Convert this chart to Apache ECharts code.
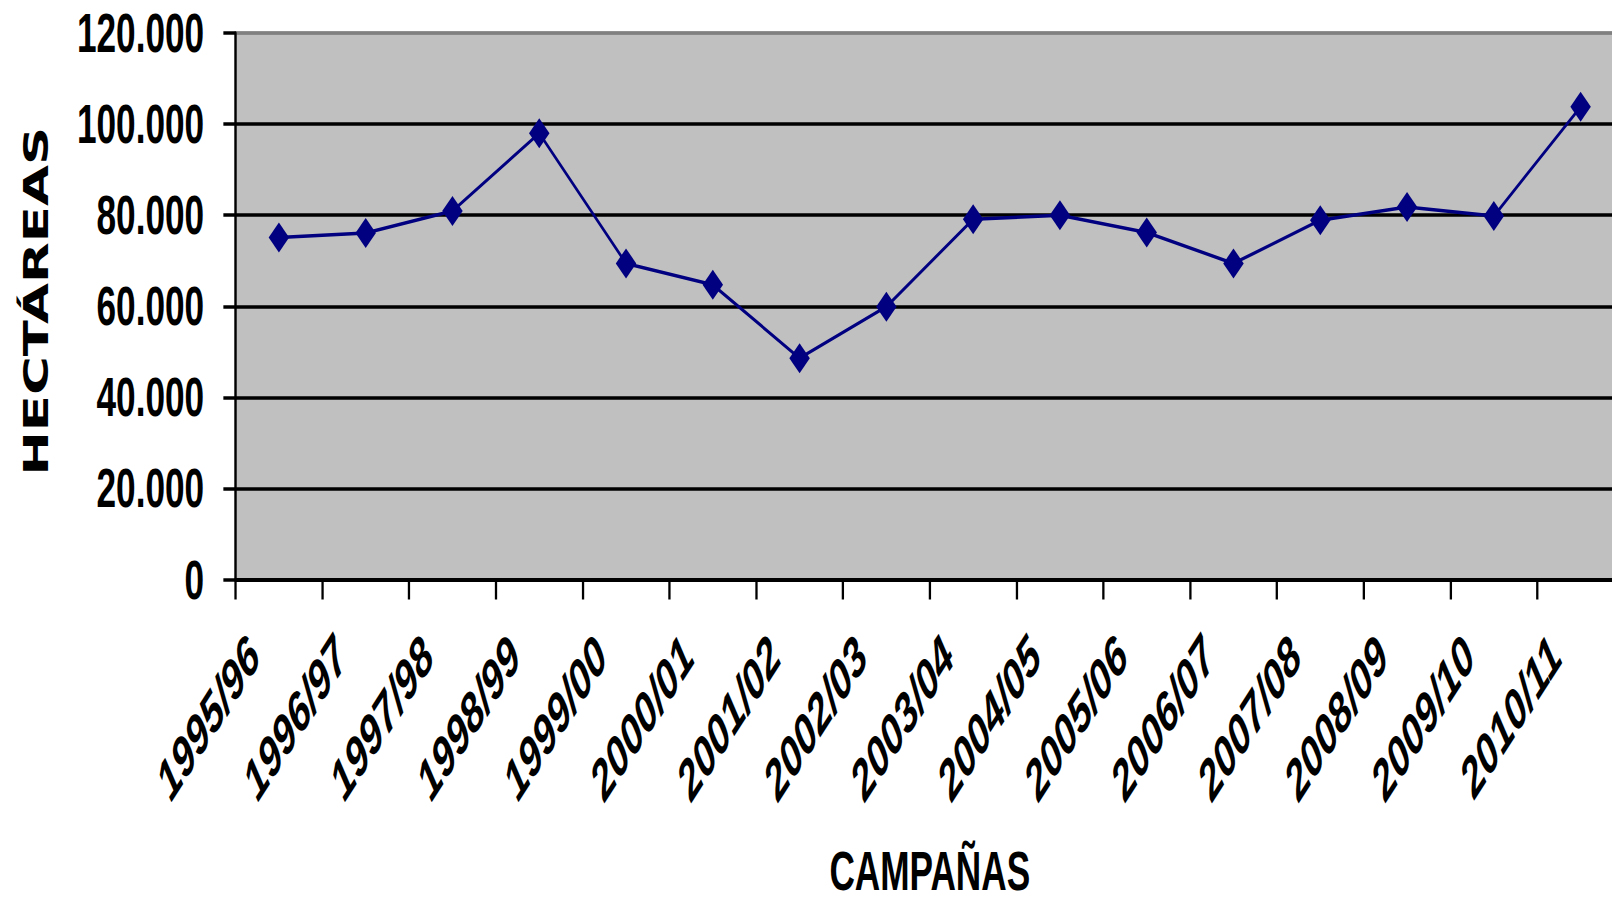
<!DOCTYPE html>
<html>
<head>
<meta charset="utf-8">
<script src="https://cdn.jsdelivr.net/npm/echarts@6/dist/echarts.min.js"></script>
<style>
  html, body { margin: 0; padding: 0; background: #fff; overflow: hidden; width: 1612px; height: 902px; }
  #chart { width: 2519px; height: 902px; transform: scaleX(0.64); transform-origin: 0 0; }
</style>
</head>
<body>
<div id="chart"></div>
<script>
// Data
const categories = ['1995/96','1996/97','1997/98','1998/99','1999/00','2000/01','2001/02','2002/03',
                    '2003/04','2004/05','2005/06','2006/07','2007/08','2008/09','2009/10','2010/11'];
const hectareas = [75100, 76100, 80900, 98000, 69400, 64700, 48600, 59900,
                   79100, 80000, 76200, 69400, 78900, 81800, 79800, 103800];
const yMin = 0;
const yMax = 120000;
const yStep = 20000;
const xTitle = 'CAMPAÑAS';
const yTitle = 'HECTÁREAS';

function fmt(v) {
  return String(v).replace(/\B(?=(\d{3})+(?!\d))/g, '.');
}

const chart = echarts.init(document.getElementById('chart'), null, { renderer: 'svg' });
chart.setOption({
  animation: false,
  backgroundColor: '#ffffff',
  grid: {
    left: 368, top: 33, width: 2169.5, height: 546.5,
    show: true, backgroundColor: '#C0C0C0', borderColor: '#808080', borderWidth: 3,
    outerBoundsMode: 'none', containLabel: false
  },
  xAxis: {
    type: 'category',
    data: categories,
    boundaryGap: true,
    axisLine: { show: true, lineStyle: { color: '#000', width: 4 } },
    axisTick: { show: true, length: 20, lineStyle: { color: '#000', width: 3.6 } },
    splitLine: { show: false },
    axisLabel: {
      interval: 0, rotate: 45, margin: 27, padding: [0, 56, 0, 0],
      fontFamily: 'Liberation Sans', fontWeight: 'bold', fontStyle: 'italic',
      fontSize: 56, color: '#000'
    },
    name: xTitle,
    nameLocation: 'middle',
    nameGap: 269,
    nameTextStyle: { fontFamily: 'Liberation Sans', fontWeight: 'bold', fontSize: 55, lineHeight: 44, color: '#000' }
  },
  yAxis: {
    type: 'value',
    min: yMin, max: yMax, interval: yStep,
    axisLine: { show: true, lineStyle: { color: '#000', width: 3.6 } },
    axisTick: { show: true, length: 19, lineStyle: { color: '#000', width: 3.5 } },
    splitLine: { show: true, lineStyle: { color: ['#000','#000','#000','#000','#000','#000','#808080'], width: 3.5 } },
    axisLabel: {
      margin: 49, formatter: fmt,
      fontFamily: 'Liberation Sans', fontWeight: 'bold', fontSize: 55, color: '#000'
    },
    name: yTitle,
    nameLocation: 'middle',
    nameGap: 285,
    nameTextStyle: { fontFamily: 'DejaVu Sans', fontWeight: 'bold', fontSize: 53, color: '#000', padding: [0, 0, 0, 10] }
  },
  series: [{
    type: 'line',
    data: hectareas,
    color: '#000080',
    lineStyle: { color: '#000080', width: 3.5 },
    itemStyle: { color: '#000080' },
    symbol: 'diamond',
    symbolSize: [32, 30],
    showSymbol: true,
    clip: false,
    z: 5
  }]
});
</script>
</body>
</html>
